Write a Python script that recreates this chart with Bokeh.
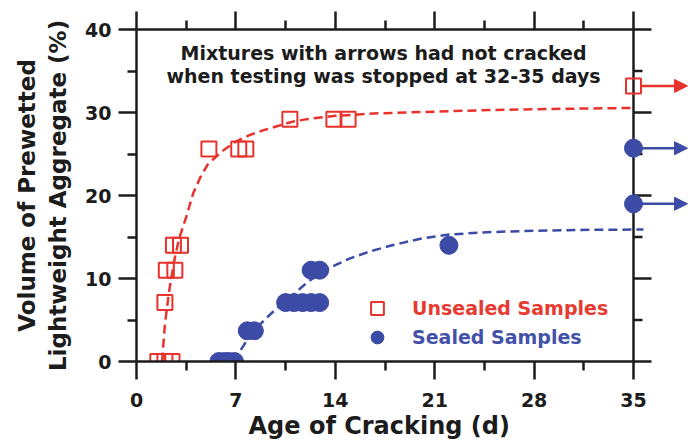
from bokeh.plotting import figure
from bokeh.models import (Range1d, LinearAxis, FixedTicker, Arrow, NormalHead,
                          Label, Legend, LegendItem, CustomJSTickFormatter, Title)
from bokeh.embed import file_html
from bokeh.resources import INLINE

# ---------------- data ----------------
x_ticks = [0, 7, 14, 21, 28, 35]
x_minor = [3.5, 10.5, 17.5, 24.5, 31.5]
y_ticks = [0, 10, 20, 30, 40]
y_minor = [5, 15, 25, 35]

# cracked specimens (age of cracking, % prewetted LWA)
unsealed_x = [1.5, 2.0, 2.5, 2.0, 2.1, 2.7, 2.6, 3.1, 5.1, 7.2, 7.7, 10.8, 13.9, 14.9]
unsealed_y = [0, 0, 0, 7.1, 11.0, 11.0, 14.0, 14.0, 25.6, 25.6, 25.6, 29.2, 29.2, 29.2]
sealed_x = [5.8, 6.2, 6.5, 6.9, 7.8, 8.3, 10.5, 11.1, 11.7, 12.3, 12.9, 12.3, 12.9, 22.0]
sealed_y = [0, 0, 0, 0, 3.7, 3.7, 7.1, 7.1, 7.1, 7.1, 7.1, 11.0, 11.0, 14.0]

# specimens that had not cracked when testing stopped (shown at 35 d with arrows)
unsealed_nc_x = [35]
unsealed_nc_y = [33.2]
sealed_nc_x = [35, 35]
sealed_nc_y = [25.7, 19.0]

# fitted trend curves
red_curve_x = [1.8, 2.0, 2.3, 2.7, 3.0, 3.5, 4.0, 4.5, 5.0, 6.0, 7.0, 8.0, 9.0, 10.0,
               11.0, 12.0, 14.0, 17.0, 21.0, 25.0, 30.0, 35.0]
red_curve_y = [0.0, 4.5, 8.5, 12.5, 14.8, 17.4, 20.3, 22.2, 23.7, 25.3, 26.5, 27.3, 27.9,
               28.4, 28.9, 29.2, 29.6, 29.9, 30.1, 30.3, 30.45, 30.55]
blue_curve_x = [6.8, 7.5, 8.0, 9.0, 10.0, 11.0, 12.0, 13.0, 14.0, 15.0, 16.5, 18.0, 20.0,
                22.0, 25.0, 28.0, 31.0, 35.7]
blue_curve_y = [0.0, 1.8, 3.2, 5.0, 6.6, 8.0, 9.5, 10.7, 11.6, 12.4, 13.3, 14.0, 14.8,
                15.3, 15.6, 15.75, 15.85, 15.9]

note_lines = ["Mixtures with arrows had not cracked",
              "when testing was stopped at 32-35 days"]
x_title = "Age of Cracking (d)"
y_title = "Volume of Prewetted\nLightweight Aggregate (%)"
label_unsealed = "Unsealed Samples"
label_sealed = "Sealed Samples"

# ---------------- style / layout ----------------
FONT = "DejaVu Sans"
RED = "#E8322B"
BLUE = "#3B4BA6"
RED_TXT = "#E63B30"
BLUE_TXT = "#4352A8"
INK = "#1c1c1c"

W, H = 690, 443
LEFT, RIGHT, TOP, BOTTOM = 136, 0, 29, 82
PX_PER_DAY = 497 / 35.0
frame_w = W - LEFT - RIGHT
x_end = frame_w / PX_PER_DAY
MAJ_OUT, MIN_OUT = 18, 9
X_MAX = x_ticks[-1]
tick_maj_d = MAJ_OUT / PX_PER_DAY
tick_min_d = MIN_OUT / PX_PER_DAY
ARROW_LEN = 54 / PX_PER_DAY
MARK_HALF = 7.5 / PX_PER_DAY

p = figure(width=W, height=H, output_backend="svg", toolbar_location=None,
           x_range=Range1d(0, x_end), y_range=Range1d(0, 40),
           min_border_left=LEFT, min_border_right=RIGHT,
           min_border_top=TOP, min_border_bottom=BOTTOM)
p.grid.visible = False
p.outline_line_color = None
p.background_fill_color = "white"
p.border_fill_color = "white"


def style_axis(ax, ticks, minor):
    ax.ticker = FixedTicker(ticks=ticks, minor_ticks=minor)
    ax.axis_line_width = 2.5
    ax.axis_line_color = INK
    ax.major_tick_line_width = 2.5
    ax.major_tick_line_color = INK
    ax.minor_tick_line_width = 2.5
    ax.minor_tick_line_color = INK
    ax.major_tick_in = 0
    ax.major_tick_out = MAJ_OUT
    ax.minor_tick_in = 0
    ax.minor_tick_out = MIN_OUT
    ax.major_label_text_font = FONT
    ax.major_label_text_font_style = "bold"
    ax.major_label_text_font_size = "19px"
    ax.major_label_text_color = INK
    ax.axis_label_text_font = FONT
    ax.axis_label_text_font_style = "bold"
    ax.axis_label_text_color = INK


xa = p.xaxis[0]
style_axis(xa, x_ticks, x_minor)
xa.bounds = (0, X_MAX + tick_maj_d)
xa.major_label_standoff = 13

# x-axis title, centred under the 0-35 d axis rather than the whole frame
p.add_layout(Title(text=x_title, align="left", offset=112, standoff=0,
                   text_font=FONT, text_font_style="bold", text_font_size="24px",
                   text_color=INK), "below")

ya = p.yaxis[0]
style_axis(ya, y_ticks, y_minor)
ya.axis_label = y_title
ya.axis_label_text_font_size = "23px"
ya.major_label_standoff = 7
ya.axis_label_standoff = 11

blank = CustomJSTickFormatter(code="return ''")
top_ax = LinearAxis()
style_axis(top_ax, x_ticks, x_minor)
top_ax.bounds = (0, X_MAX + tick_maj_d)
top_ax.formatter = blank
top_ax.major_label_standoff = 0
p.add_layout(top_ax, "above")

# right-hand axis at 35 d (inside the frame so the arrows can run past it)
p.segment(x0=[X_MAX], y0=[y_ticks[0]], x1=[X_MAX], y1=[y_ticks[-1]],
          line_color=INK, line_width=2.5)
inner_major = [t for t in y_ticks if y_ticks[0] < t < y_ticks[-1]]
p.segment(x0=[X_MAX] * len(inner_major), y0=inner_major,
          x1=[X_MAX + tick_maj_d] * len(inner_major), y1=inner_major,
          line_color=INK, line_width=2.5)
p.segment(x0=[X_MAX] * len(y_minor), y0=y_minor,
          x1=[X_MAX + tick_min_d] * len(y_minor), y1=y_minor,
          line_color=INK, line_width=2.5)

# trend curves
p.line(red_curve_x, red_curve_y, line_color=RED, line_width=2.5, line_dash="9 5")
p.line(blue_curve_x, blue_curve_y, line_color=BLUE, line_width=2.5, line_dash="9 5")

# arrows for uncracked specimens
for xs, ys, c in ((unsealed_nc_x, unsealed_nc_y, RED), (sealed_nc_x, sealed_nc_y, BLUE)):
    for xv, yv in zip(xs, ys):
        p.add_layout(Arrow(x_start=xv + MARK_HALF, y_start=yv, x_end=xv + ARROW_LEN, y_end=yv,
                           line_color=c, line_width=2.5,
                           end=NormalHead(size=13, fill_color=c, line_color=c, line_width=1)))

# markers
r_uns = p.scatter(unsealed_x, unsealed_y, marker="square", size=15,
                  fill_color=None, line_color=RED, line_width=2)
p.scatter(unsealed_nc_x, unsealed_nc_y, marker="square", size=15,
          fill_color=None, line_color=RED, line_width=2)
r_sea = p.scatter(sealed_x, sealed_y, marker="circle", size=18,
                  fill_color=BLUE, line_color=BLUE)
p.scatter(sealed_nc_x, sealed_nc_y, marker="circle", size=18,
          fill_color=BLUE, line_color=BLUE)

# note text
for txt, yv in zip(note_lines, (37.2, 34.45)):
    p.add_layout(Label(x=17.4, y=yv, text=txt, text_align="center",
                       text_baseline="middle", text_font=FONT,
                       text_font_style="bold", text_font_size="19px",
                       text_color=INK))


# legend (two single-item legends so each label has its own colour)
def make_legend(r, label, color, bottom):
    lg = Legend(items=[LegendItem(label=label, renderers=[r])],
                location=(225, bottom), orientation="vertical",
                border_line_color=None, background_fill_alpha=0,
                padding=0, margin=0, spacing=0,
                glyph_width=32, glyph_height=32, label_standoff=19,
                label_text_font=FONT, label_text_font_style="bold",
                label_text_font_size="19px", label_text_color=color)
    p.add_layout(lg)


make_legend(r_uns, label_unsealed, RED_TXT, 37)
make_legend(r_sea, label_sealed, BLUE_TXT, 8)

open("out.html", "w").write(file_html(p, INLINE))
